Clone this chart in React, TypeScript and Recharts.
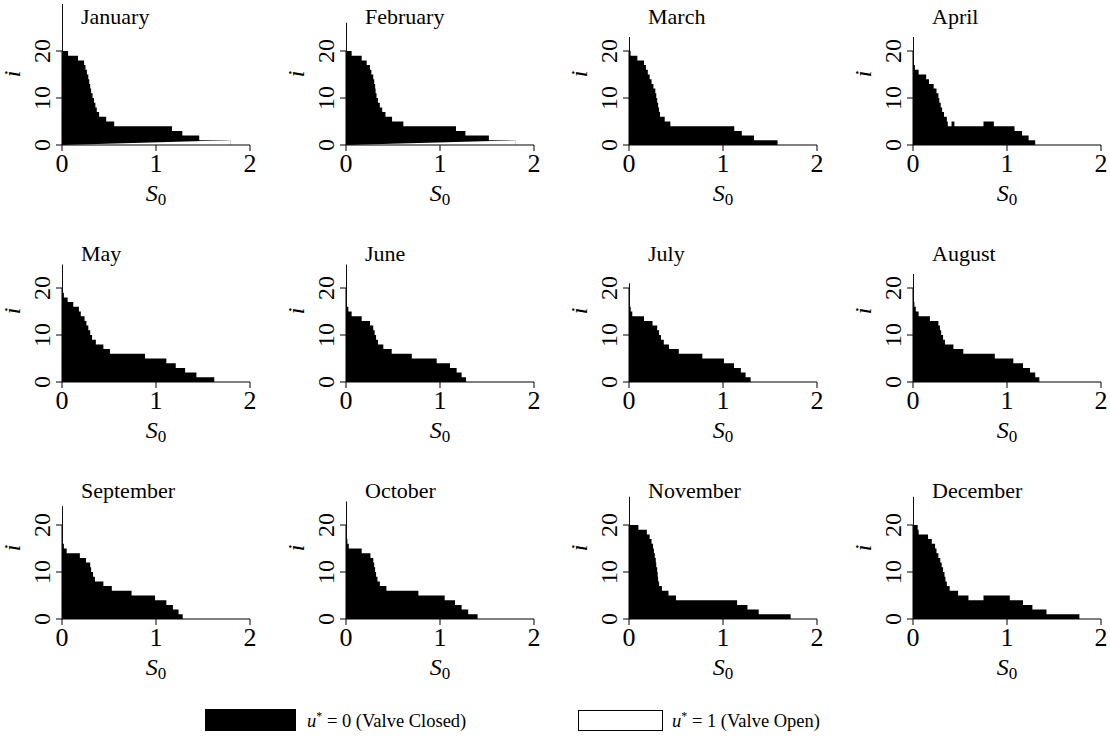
import { Area, ComposedChart, ReferenceLine, XAxis, YAxis } from 'recharts'

const FONT = '"Liberation Serif", "Times New Roman", serif'

const months = [
  'January', 'February', 'March', 'April', 'May', 'June',
  'July', 'August', 'September', 'October', 'November', 'December'
]

// i level held on each step, and the S0 where that step ends
const janLevels = [30, 20, 19, 18, 17, 16, 15, 14, 13, 12, 11, 10, 9, 8, 7, 6, 5, 4, 3, 2, 1]
const janEnds = [0.01, 0.065, 0.17, 0.235, 0.25, 0.265, 0.28, 0.29, 0.3, 0.31, 0.325, 0.34, 0.355, 0.37, 0.395, 0.47, 0.555, 1.17, 1.28, 1.46, 1.79]

const febLevels = [26, 20, 19, 18, 17, 16, 15, 14, 13, 12, 11, 10, 9, 8, 7, 6, 5, 4, 3, 2, 1]
const febEnds = [0.01, 0.06, 0.167, 0.22, 0.255, 0.27, 0.29, 0.3, 0.31, 0.315, 0.325, 0.34, 0.36, 0.385, 0.42, 0.49, 0.61, 1.17, 1.27, 1.52, 1.8]

const marLevels = [23, 20, 19, 18, 17, 16, 15, 14, 13, 12, 11, 10, 9, 8, 7, 6, 5, 4, 3, 2, 1]
const marEnds = [0.01, 0.017, 0.089, 0.16, 0.18, 0.2, 0.22, 0.24, 0.26, 0.28, 0.29, 0.3, 0.31, 0.32, 0.33, 0.38, 0.44, 1.12, 1.2, 1.33, 1.58]

const aprLevels = [23, 17, 16, 15, 14, 13, 12, 11, 10, 9, 8, 7, 6, 5, 4, 5, 4, 5, 4, 3, 2, 1]
const aprEnds = [0.01, 0.02, 0.06, 0.14, 0.17, 0.22, 0.25, 0.27, 0.28, 0.295, 0.31, 0.33, 0.36, 0.37, 0.41, 0.44, 0.75, 0.86, 1.08, 1.16, 1.23, 1.3]

const mayLevels = [25, 19, 18, 17, 16, 15, 14, 13, 12, 11, 10, 9, 8, 7, 6, 5, 4, 3, 2, 1]
const mayEnds = [0.01, 0.02, 0.06, 0.12, 0.18, 0.2, 0.24, 0.26, 0.28, 0.3, 0.32, 0.36, 0.44, 0.51, 0.883, 1.11, 1.21, 1.31, 1.43, 1.62]

const junLevels = [25, 16, 15, 14, 13, 12, 11, 10, 9, 8, 7, 6, 5, 4, 3, 2, 1]
const junEnds = [0.01, 0.025, 0.06, 0.167, 0.255, 0.29, 0.305, 0.32, 0.34, 0.397, 0.486, 0.7, 0.965, 1.106, 1.177, 1.23, 1.277]

const julLevels = [21, 16, 15, 14, 13, 12, 11, 10, 9, 8, 7, 6, 5, 4, 3, 2, 1]
const julEnds = [0.01, 0.018, 0.035, 0.16, 0.25, 0.3, 0.32, 0.34, 0.37, 0.425, 0.53, 0.78, 1.01, 1.117, 1.19, 1.24, 1.294]

const augLevels = [23, 17, 16, 15, 14, 13, 12, 11, 10, 9, 8, 7, 6, 5, 4, 3, 2, 1]
const augEnds = [0.01, 0.015, 0.03, 0.06, 0.18, 0.27, 0.287, 0.3, 0.32, 0.34, 0.43, 0.535, 0.87, 1.067, 1.17, 1.245, 1.3, 1.344]

const sepLevels = [24, 16, 15, 14, 13, 12, 11, 10, 9, 8, 7, 6, 5, 4, 3, 2, 1]
const sepEnds = [0.01, 0.02, 0.05, 0.19, 0.255, 0.3, 0.31, 0.33, 0.35, 0.44, 0.53, 0.74, 0.99, 1.11, 1.18, 1.24, 1.284]

const octLevels = [25, 17, 16, 15, 14, 13, 12, 11, 10, 9, 8, 7, 6, 5, 4, 3, 2, 1]
const octEnds = [0.01, 0.015, 0.03, 0.167, 0.26, 0.29, 0.3, 0.31, 0.32, 0.335, 0.36, 0.43, 0.77, 1.05, 1.16, 1.23, 1.3, 1.4]

const novLevels = [26, 20, 19, 18, 17, 16, 15, 14, 13, 12, 11, 10, 9, 8, 7, 6, 5, 4, 3, 2, 1]
const novEnds = [0.01, 0.1, 0.19, 0.22, 0.24, 0.255, 0.265, 0.275, 0.285, 0.29, 0.3, 0.305, 0.31, 0.32, 0.35, 0.42, 0.5, 1.15, 1.26, 1.38, 1.72]

const decLevels = [26, 20, 19, 18, 17, 16, 15, 14, 13, 12, 11, 10, 9, 8, 7, 6, 5, 4, 5, 4, 3, 2, 1]
const decEnds = [0.01, 0.05, 0.06, 0.16, 0.2, 0.235, 0.25, 0.27, 0.29, 0.305, 0.32, 0.335, 0.345, 0.36, 0.39, 0.48, 0.59, 0.75, 1.03, 1.17, 1.27, 1.42, 1.77]

// the polygon in Jan/Feb closes with a slanted bottom edge back to (0, 0)
const tailRise = [1, 1, 0, 0, 0, 0, 0, 0, 0, 0, 0, 0]

const xTicks = [0, 1, 2]
const yTicks = [0, 10, 20]

const allLevels = [janLevels, febLevels, marLevels, aprLevels, mayLevels, junLevels, julLevels, augLevels, sepLevels, octLevels, novLevels, decLevels]
const allEnds = [janEnds, febEnds, marEnds, aprEnds, mayEnds, junEnds, julEnds, augEnds, sepEnds, octEnds, novEnds, decEnds]

type Row = { s: number; i: number; gap?: number }

const buildRows = (levels: number[], ends: number[], rise: number): Row[] => {
  const rows: Row[] = levels.map((lv, k) => ({ s: k === 0 ? 0 : ends[k - 1], i: lv }))
  rows.push({ s: ends[ends.length - 1], i: 0 })
  if (rise) {
    rows[0].gap = 0
    rows[rows.length - 1].gap = rise
  }
  return rows
}

const XTick = (props: any) => {
  const { x, y, payload } = props
  return (
    <text x={x} y={y} dy="0.71em" textAnchor="middle" fontSize={26} fontFamily={FONT} fill="#000">
      {payload.value}
    </text>
  )
}

const YTick = (props: any) => {
  const { x, y, payload } = props
  return (
    <text x={x} y={y} transform={`rotate(-90 ${x} ${y})`} textAnchor="middle" fontSize={24} fontFamily={FONT} fill="#000">
      {payload.value}
    </text>
  )
}

function Panel({ name, rows, left, top, hasTail }: { name: string; rows: Row[]; left: number; top: number; hasTail: boolean }) {
  return (
    <div style={{ position: 'absolute', left, top, width: 270, height: 215 }}>
      <ComposedChart width={270} height={215} data={rows} margin={{ top: 4, right: 20, bottom: 0, left: 12 }}>
        <Area
          dataKey="i"
          type="stepAfter"
          fill="#000"
          fillOpacity={1}
          stroke="none"
          dot={false}
          activeDot={false}
          isAnimationActive={false}
        />
        {hasTail && (
          <Area
            dataKey="gap"
            type="linear"
            connectNulls
            fill="#fff"
            fillOpacity={1}
            stroke="none"
            dot={false}
            activeDot={false}
            isAnimationActive={false}
          />
        )}
        <XAxis
          type="number"
          dataKey="s"
          domain={[0, 2]}
          ticks={xTicks}
          height={70}
          stroke="#000"
          tickSize={6}
          tickMargin={3}
          tick={<XTick />}
          label={{
            content: () => (
              <text x={156} y={201} textAnchor="middle" fontFamily={FONT} fill="#000">
                <tspan fontStyle="italic" fontSize={24}>S</tspan>
                <tspan fontSize={17} dy={4}>0</tspan>
              </text>
            )
          }}
        />
        <YAxis
          type="number"
          domain={[0, 30]}
          ticks={yTicks}
          width={50}
          axisLine={false}
          tickLine={{ stroke: '#000' }}
          tickSize={6}
          tickMargin={6}
          tick={<YTick />}
          label={{
            content: () => (
              <text x={20} y={74} transform="rotate(-90 20 74)" textAnchor="middle" fontStyle="italic" fontSize={24} fontFamily={FONT} fill="#000">
                i
              </text>
            )
          }}
        />
        <ReferenceLine segment={[{ x: 0, y: 0 }, { x: 0, y: 20 }]} stroke="#000" strokeWidth={1} ifOverflow="visible" />
      </ComposedChart>
      <div
        style={{
          position: 'absolute',
          left: 81,
          top: 6,
          fontFamily: FONT,
          fontSize: 22,
          lineHeight: '22px',
          color: '#000',
          whiteSpace: 'nowrap'
        }}
      >
        {name}
      </div>
    </div>
  )
}

export default function App() {
  return (
    <div style={{ position: 'absolute', left: 0, top: 0, width: 1110, height: 740, background: '#fff', fontFamily: FONT }}>
      {months.map((name, idx) => {
        const c = idx % 4
        const r = Math.floor(idx / 4)
        const axisX = Math.round(62 + c * 283.7)
        const y0 = 145 + r * 237
        return (
          <Panel
            key={name}
            name={name}
            rows={buildRows(allLevels[idx], allEnds[idx], tailRise[idx])}
            left={axisX - 62}
            top={y0 - 145}
            hasTail={tailRise[idx] > 0}
          />
        )
      })}
      <svg width={1110} height={50} style={{ position: 'absolute', left: 0, top: 690 }}>
        <rect x={205} y={19} width={91} height={22} fill="#000" />
        <text x={307} y={37} fontSize={18.5} fontFamily={FONT} fill="#000">
          <tspan fontStyle="italic">u</tspan>
          <tspan fontSize={12} dy={-7}>*</tspan>
          <tspan dy={7}> = 0 (Valve Closed)</tspan>
        </text>
        <rect x={578.5} y={20.5} width={84} height={20} fill="#fff" stroke="#000" strokeWidth={1} />
        <text x={672} y={37} fontSize={18.5} fontFamily={FONT} fill="#000">
          <tspan fontStyle="italic">u</tspan>
          <tspan fontSize={12} dy={-7}>*</tspan>
          <tspan dy={7}> = 1 (Valve Open)</tspan>
        </text>
      </svg>
    </div>
  )
}
